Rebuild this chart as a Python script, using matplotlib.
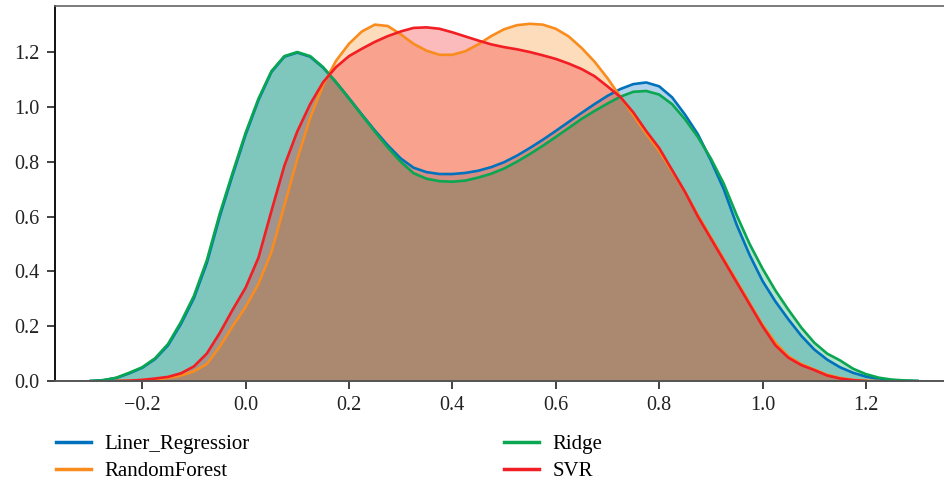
import numpy as np
import matplotlib
matplotlib.use("Agg")
import matplotlib.pyplot as plt

# === DATA (density values, x step 0.025) ===
x_grid = np.round(np.arange(-0.300, 1.3001, 0.025), 3)

liner_regressior = [
    0.000, 0.003, 0.011, 0.028, 0.048, 0.080, 0.130, 0.208, 0.302, 0.430,
    0.600, 0.752, 0.898, 1.025, 1.127, 1.183, 1.198, 1.183, 1.143, 1.090,
    1.032, 0.972, 0.914, 0.860, 0.812, 0.778, 0.762, 0.755, 0.755, 0.759,
    0.767, 0.780, 0.798, 0.822, 0.850, 0.880, 0.912, 0.945, 0.978, 1.010,
    1.040, 1.065, 1.083, 1.089, 1.075, 1.035, 0.972, 0.900, 0.805, 0.700,
    0.570, 0.460, 0.365, 0.290, 0.225, 0.165, 0.115, 0.078, 0.050, 0.030,
    0.016, 0.007, 0.003, 0.001, 0.000,
]
random_forest = [
    None, None, 0.000, 0.001, 0.003, 0.006, 0.011, 0.020, 0.035, 0.062,
    0.125, 0.200, 0.270, 0.355, 0.470, 0.640, 0.810, 0.960, 1.080, 1.168,
    1.230, 1.275, 1.300, 1.295, 1.265, 1.230, 1.205, 1.190, 1.190, 1.203,
    1.228, 1.258, 1.283, 1.298, 1.303, 1.300, 1.285, 1.257, 1.215, 1.165,
    1.105, 1.037, 0.970, 0.902, 0.840, 0.765, 0.690, 0.605, 0.525, 0.445,
    0.365, 0.285, 0.205, 0.140, 0.090, 0.062, 0.042, 0.023, 0.011, 0.004,
    0.001, 0.000, None, None, None,
]
ridge = [
    0.000, 0.003, 0.012, 0.030, 0.050, 0.083, 0.135, 0.215, 0.310, 0.440,
    0.610, 0.760, 0.905, 1.030, 1.130, 1.185, 1.200, 1.185, 1.145, 1.090,
    1.030, 0.970, 0.910, 0.852, 0.800, 0.758, 0.738, 0.729, 0.727, 0.731,
    0.742, 0.756, 0.775, 0.800, 0.828, 0.858, 0.890, 0.923, 0.956, 0.985,
    1.012, 1.037, 1.055, 1.058, 1.045, 1.010, 0.955, 0.890, 0.812, 0.720,
    0.605, 0.500, 0.410, 0.330, 0.260, 0.195, 0.140, 0.100, 0.075, 0.045,
    0.025, 0.012, 0.005, 0.002, 0.000,
]
svr = [
    None, None, 0.000, 0.001, 0.004, 0.009, 0.015, 0.028, 0.053, 0.100,
    0.175, 0.260, 0.340, 0.450, 0.620, 0.785, 0.910, 1.010, 1.090, 1.145,
    1.185, 1.212, 1.237, 1.258, 1.275, 1.288, 1.290, 1.285, 1.272, 1.257,
    1.242, 1.228, 1.218, 1.210, 1.200, 1.188, 1.175, 1.158, 1.138, 1.112,
    1.075, 1.036, 0.980, 0.912, 0.850, 0.770, 0.690, 0.600, 0.520, 0.440,
    0.360, 0.280, 0.200, 0.130, 0.085, 0.058, 0.040, 0.020, 0.009, 0.003,
    0.000, None, None, None, None,
]

labels = ["Liner_Regressior", "RandomForest", "Ridge", "SVR"]
colors = ["#0072bd", "#fa8c1e", "#0aa651", "#f21e24"]

x_ticks = [-0.2, 0.0, 0.2, 0.4, 0.6, 0.8, 1.0, 1.2]
y_ticks = [0.0, 0.2, 0.4, 0.6, 0.8, 1.0, 1.2]

plt.rcParams['font.family'] = ['Liberation Serif', 'DejaVu Serif']
plt.rcParams['font.size'] = 14.5


def to_arr(vals):
    return np.array([np.nan if v is None else v for v in vals], dtype=float)


fig = plt.figure(figsize=(9.45, 4.83), dpi=100)
ax = fig.add_axes([0.058, 0.2112, 0.942, 0.7764])

series = [liner_regressior, random_forest, ridge, svr]
for vals, lab, col in zip(series, labels, colors):
    y = to_arr(vals)
    ax.fill_between(x_grid, y, color=col, alpha=0.3, lw=0)
    ax.plot(x_grid, y, color=col, lw=1.9, label=lab)

ax.set_xlim(-0.369, 1.353)
ax.set_ylim(0, 1.368)
ax.set_xticks(x_ticks)
ax.set_yticks(y_ticks)
ax.set_xticklabels([f"{t:.1f}".replace("-", "\u2212") for t in x_ticks])
ax.set_yticklabels([f"{t:.1f}" for t in y_ticks])
ax.tick_params(axis='both', length=6, width=1.2, colors='#222222', pad=5)

ax.spines['right'].set_visible(False)
ax.spines['top'].set_color('#666666')
ax.spines['top'].set_linewidth(1.2)
ax.spines['left'].set_color('#111111')
ax.spines['left'].set_linewidth(1.4)
ax.spines['bottom'].set_color('#555555')
ax.spines['bottom'].set_linewidth(1.4)

leg = fig.legend(loc='upper left', bbox_to_anchor=(0.0395, 0.1385), ncol=2,
                 frameon=False, handlelength=1.7, handletextpad=0.63,
                 columnspacing=12.2, labelspacing=0.35, fontsize=15)
for line in leg.get_lines():
    line.set_linewidth(2.5)

fig.savefig("out.png", dpi=100)
